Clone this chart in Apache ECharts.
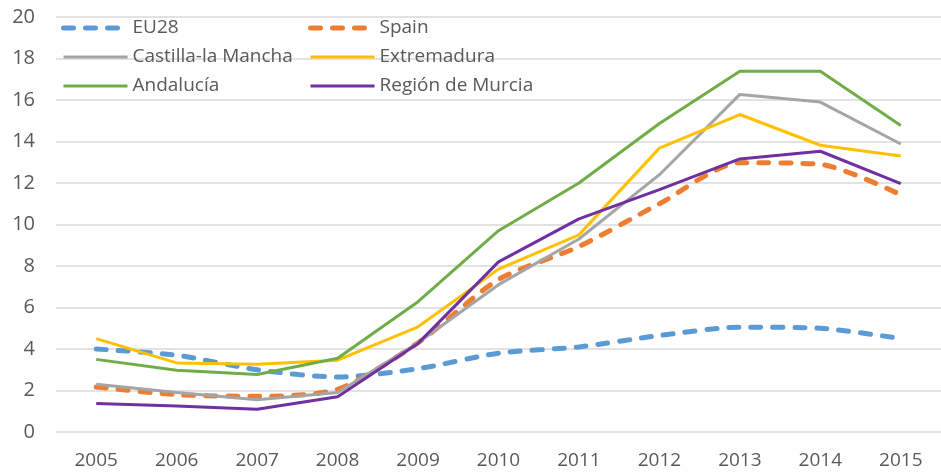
<!DOCTYPE html>
<html>
<head>
<meta charset="utf-8">
<script src="https://cdn.jsdelivr.net/npm/echarts@6/dist/echarts.min.js"></script>
<style>html,body{margin:0;padding:0;background:#fff;}#c{width:941px;height:473px;}</style>
</head>
<body>
<div id="c"></div>
<script>
var years = ['2005','2006','2007','2008','2009','2010','2011','2012','2013','2014','2015'];
var eu28 = [4.0, 3.7, 3.0, 2.65, 3.05, 3.8, 4.1, 4.65, 5.05, 5.0, 4.5];
var spain = [2.17, 1.8, 1.72, 2.06, 4.3, 7.35, 8.94, 11.0, 12.98, 12.9, 11.43];
var castilla = [2.3, 1.9, 1.55, 1.9, 4.3, 7.1, 9.3, 12.4, 16.27, 15.9, 13.88];
var extremadura = [4.5, 3.33, 3.27, 3.46, 5.07, 7.85, 9.5, 13.68, 15.3, 13.82, 13.3];
var andalucia = [3.5, 2.98, 2.77, 3.55, 6.28, 9.7, 12.0, 14.87, 17.39, 17.39, 14.77];
var murcia = [1.37, 1.25, 1.1, 1.7, 4.27, 8.2, 10.27, 11.68, 13.16, 13.53, 11.97];
var yTicks = [0, 2, 4, 6, 8, 10, 12, 14, 16, 18, 20];

var font = '"Open Sans", sans-serif';
var txt = '#595959';
var dashLine = { width: 5, type: [10, 12], cap: 'round' };

function solid(name, data, color) {
  return { name: name, type: 'line', data: data, symbol: 'none', smooth: false,
    lineStyle: { color: color, width: 3 }, itemStyle: { color: color } };
}
function dashed(name, data, color, z) {
  return { name: name, type: 'line', data: data, symbol: 'none', smooth: 0.25, z: z,
    lineStyle: { color: color, width: dashLine.width, type: dashLine.type, cap: dashLine.cap }, itemStyle: { color: color } };
}
function legItem(name, isDashed) {
  return { name: name,
    itemStyle: { opacity: 0 },
    lineStyle: isDashed ? { width: 5, type: [10, 12], cap: 'round' } : { width: 3, type: 'solid' } };
}

var legendText = { color: txt, fontFamily: font, fontSize: 19, lineHeight: 22 };
var chart = echarts.init(document.getElementById('c'), null, { renderer: 'canvas' });
chart.setOption({
  animation: false,
  backgroundColor: '#fff',
  grid: { left: 56, right: -11, top: 17, bottom: 41 },
  legend: [
    { orient: 'vertical', left: 56, top: 12, itemWidth: 64, itemHeight: 14, itemGap: 7,
      data: [legItem('EU28', true), legItem('Castilla-la Mancha'), legItem('Andalucía')], textStyle: legendText },
    { orient: 'vertical', left: 303, top: 12, itemWidth: 64, itemHeight: 14, itemGap: 7,
      data: [legItem('Spain', true), legItem('Extremadura'), legItem('Región de Murcia')], textStyle: legendText }
  ],
  xAxis: {
    type: 'category', data: years, boundaryGap: true,
    axisLine: { show: false }, axisTick: { show: false },
    axisLabel: { color: txt, fontFamily: font, fontSize: 19, margin: 19 }
  },
  yAxis: {
    type: 'value', min: yTicks[0], max: yTicks[yTicks.length - 1], interval: 2,
    axisLine: { show: false }, axisTick: { show: false },
    axisLabel: { color: txt, fontFamily: font, fontSize: 20, margin: 21 },
    splitLine: { lineStyle: { color: '#d9d9d9', width: 1.5 } }
  },
  series: [
    dashed('EU28', eu28, '#5B9BD5', 3),
    dashed('Spain', spain, '#ED7D31', 3),
    solid('Castilla-la Mancha', castilla, '#A5A5A5'),
    solid('Extremadura', extremadura, '#FFC000'),
    solid('Andalucía', andalucia, '#70AD47'),
    solid('Región de Murcia', murcia, '#7030A0')
  ]
});
</script>
</body>
</html>
